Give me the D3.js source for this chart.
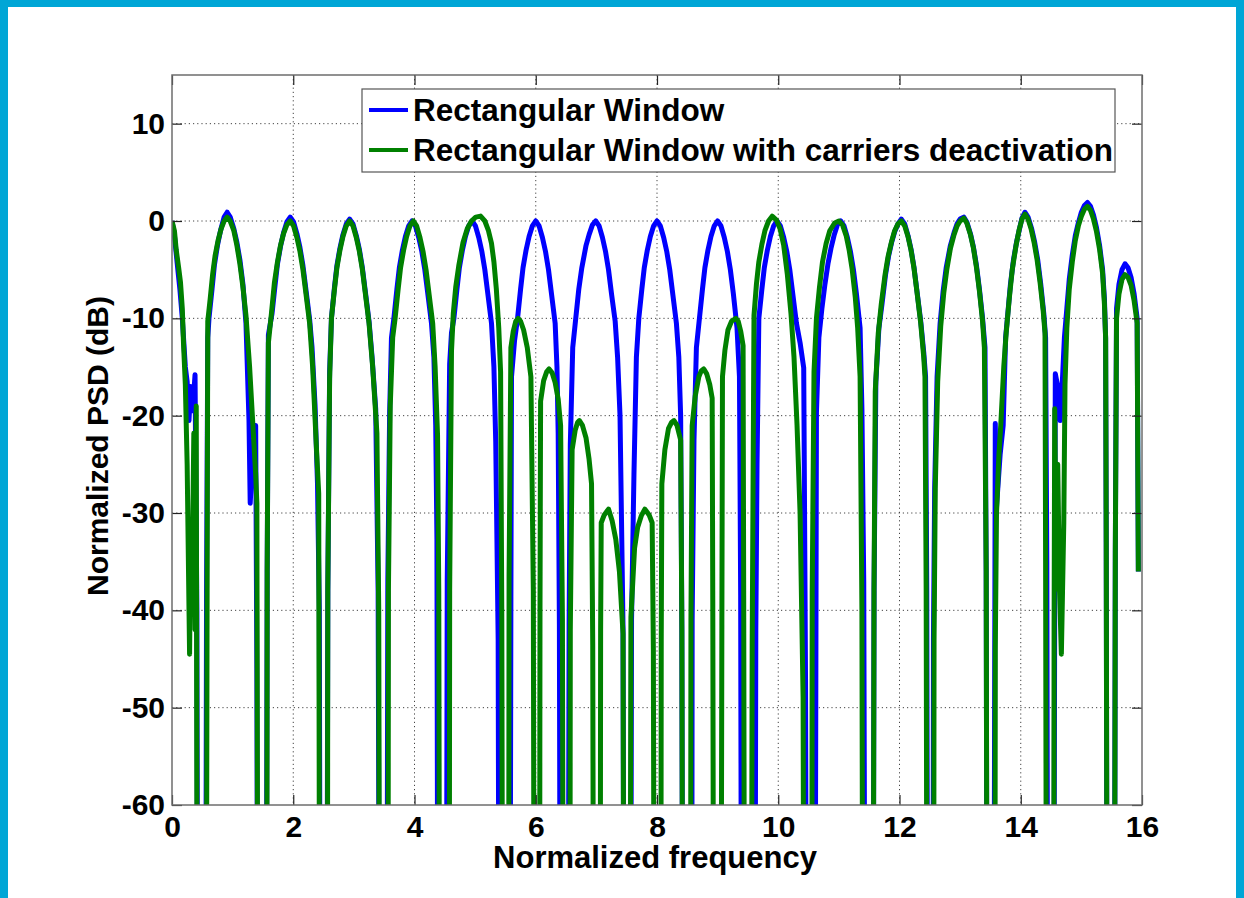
<!DOCTYPE html>
<html>
<head>
<meta charset="utf-8">
<script src="https://cdn.jsdelivr.net/npm/d3@7"></script>
<style>
  body { margin: 0; background: #fff; }
  svg { display: block; font-family: "Liberation Sans", Arial, sans-serif; font-weight: bold; }
</style>
</head>
<body>
<div id="chart"></div>
<script>
// tick values
var xTicks = [0, 2, 4, 6, 8, 10, 12, 14, 16];
var yTicks = [-60, -50, -40, -30, -20, -10, 0, 10];
var seriesNames = ["Rectangular Window", "Rectangular Window with carriers deactivation"];

// [normalized frequency, PSD dB]  (-100 = below the visible range)
var rectWindow = [
  [0,0],[0.04,-1.5],[0.08,-4],[0.13,-7],[0.17,-10],[0.22,-15],[0.25,-16.5],[0.28,-20.5],[0.31,-17],[0.34,-19.5],[0.38,-15.8],[0.41,-40],[0.43,-100],
  [0.55,-100],[0.57,-38],[0.59,-12],[0.61,-10],[0.66,-7],[0.70,-4.5],[0.75,-2.5],[0.80,-1],[0.86,0.4],[0.91,0.9],[0.96,0.4],[1.02,-0.8],[1.07,-2.2],[1.12,-4],[1.17,-6.5],[1.22,-10.5],[1.27,-20.5],[1.29,-29],[1.33,-24],[1.38,-21],[1.40,-46],[1.42,-100],
  [1.55,-100],[1.57,-36],[1.59,-11.7],[1.65,-9.5],[1.70,-6.6],[1.74,-4.4],[1.79,-2.6],[1.84,-1.2],[1.895,-0.1],[1.95,0.4],[2.005,-0.1],[2.06,-1.3],[2.11,-2.7],[2.16,-4.6],[2.21,-7.1],[2.27,-10.1],[2.31,-13],[2.36,-19],[2.40,-27],[2.43,-40],[2.45,-100],
  [2.55,-100],[2.57,-38],[2.60,-15.5],[2.63,-10],[2.68,-6.8],[2.72,-4.6],[2.77,-2.8],[2.82,-1.4],[2.875,-0.3],[2.93,0.2],[2.985,-0.3],[3.04,-1.5],[3.09,-2.9],[3.14,-4.8],[3.19,-7.3],[3.25,-10.3],[3.30,-14],[3.36,-19.3],[3.40,-38],[3.43,-100],
  [3.54,-100],[3.56,-37],[3.59,-19.7],[3.62,-12],[3.66,-10],[3.71,-7],[3.75,-4.8],[3.80,-3],[3.85,-1.6],[3.905,-0.5],[3.96,0],[4.015,-0.5],[4.07,-1.7],[4.12,-3.1],[4.17,-5],[4.22,-7.5],[4.28,-10.5],[4.32,-14],[4.35,-21],[4.37,-32.7],[4.39,-100],
  [4.52,-100],[4.54,-37],[4.58,-14.7],[4.61,-11.5],[4.65,-10],[4.70,-7],[4.74,-4.8],[4.79,-3],[4.84,-1.6],[4.895,-0.5],[4.95,0],[5.005,-0.5],[5.06,-1.7],[5.11,-3.1],[5.16,-5],[5.21,-7.5],[5.27,-10.5],[5.31,-15],[5.34,-22.7],[5.38,-43],[5.40,-100],
  [5.57,-100],[5.59,-38.6],[5.60,-16],[5.65,-12.3],[5.70,-10],[5.75,-7],[5.79,-4.8],[5.84,-3],[5.89,-1.6],[5.945,-0.5],[6.0,0],[6.055,-0.5],[6.11,-1.7],[6.16,-3.1],[6.21,-5],[6.26,-7.5],[6.32,-10.5],[6.35,-15],[6.37,-21.8],[6.39,-41.5],[6.41,-100],
  [6.53,-100],[6.55,-41.5],[6.57,-23],[6.61,-13],[6.66,-10],[6.71,-7],[6.76,-4.8],[6.83,-2.5],[6.88,-1.4],[6.935,-0.4],[6.99,0],[7.045,-0.5],[7.10,-1.7],[7.15,-3.1],[7.20,-5],[7.25,-7.5],[7.31,-10.3],[7.35,-14],[7.39,-20],[7.44,-42],[7.46,-100],
  [7.56,-100],[7.58,-41],[7.62,-26],[7.66,-14],[7.70,-10],[7.75,-7],[7.79,-4.8],[7.84,-3],[7.89,-1.6],[7.945,-0.5],[8.0,0],[8.055,-0.5],[8.11,-1.7],[8.16,-3.1],[8.21,-5],[8.26,-7.5],[8.32,-10.5],[8.36,-14],[8.39,-20],[8.41,-42],[8.43,-100],
  [8.57,-100],[8.58,-41],[8.61,-22.5],[8.65,-13],[8.70,-10],[8.75,-7],[8.79,-4.8],[8.84,-3],[8.89,-1.6],[8.945,-0.5],[9.0,0],[9.055,-0.5],[9.11,-1.7],[9.16,-3.1],[9.21,-5],[9.26,-7.5],[9.32,-11],[9.36,-16],[9.38,-38.5],[9.40,-100],
  [9.61,-100],[9.63,-42],[9.65,-25],[9.68,-10],[9.73,-7],[9.77,-4.8],[9.82,-3],[9.87,-1.6],[9.925,-0.5],[9.98,0],[10.035,-0.5],[10.09,-1.7],[10.14,-3.1],[10.19,-5],[10.24,-7.5],[10.30,-10.5],[10.36,-12.5],[10.42,-15.1],[10.45,-47],[10.47,-100],
  [10.60,-100],[10.62,-47],[10.63,-19.7],[10.67,-12],[10.72,-9],[10.77,-6.5],[10.82,-4.4],[10.87,-2.8],[10.92,-1.5],[10.975,-0.4],[11.03,0],[11.085,-0.5],[11.14,-1.7],[11.19,-3.1],[11.24,-5],[11.29,-7.5],[11.35,-11],[11.38,-19.3],[11.41,-37],[11.44,-100],
  [11.56,-100],[11.58,-38],[11.61,-16.5],[11.66,-11],[11.71,-8.6],[11.77,-5.5],[11.82,-3.6],[11.87,-2.2],[11.92,-1.1],[11.975,-0.3],[12.03,0.2],[12.085,-0.3],[12.14,-1.5],[12.19,-2.9],[12.24,-4.8],[12.29,-7.3],[12.35,-10.3],[12.40,-13.5],[12.43,-16],[12.45,-38],[12.47,-100],
  [12.55,-100],[12.56,-43],[12.58,-27.5],[12.62,-16],[12.67,-10.5],[12.72,-7.2],[12.77,-4.8],[12.84,-2.5],[12.90,-1.2],[12.95,-0.3],[13.0,0.2],[13.06,0.4],[13.11,-0.1],[13.17,-1.3],[13.22,-2.7],[13.27,-4.6],[13.32,-7.1],[13.37,-10],[13.41,-13],[13.43,-36],[13.45,-100],
  [13.55,-100],[13.58,-20.8],[13.60,-29.4],[13.66,-24],[13.71,-21],[13.75,-12],[13.78,-10],[13.83,-6.5],[13.88,-4],[13.93,-2.2],[13.98,-0.8],[14.02,0.3],[14.07,0.9],[14.12,0.4],[14.18,-0.8],[14.23,-2.2],[14.28,-4],[14.33,-6.5],[14.38,-9.5],[14.41,-12],[14.43,-35],[14.45,-100],
  [14.54,-100],[14.56,-39],[14.57,-15.7],[14.61,-17],[14.65,-20.5],[14.69,-16],[14.72,-12],[14.76,-9],[14.80,-6],[14.85,-3.5],[14.90,-1.5],[14.95,-0.2],[15.0,0.9],[15.05,1.6],[15.1,1.9],[15.15,1.5],[15.2,0.6],[15.25,-0.7],[15.30,-2.5],[15.35,-5],[15.38,-8],[15.40,-12],[15.41,-33],[15.43,-100],
  [15.54,-100],[15.56,-34],[15.58,-9],[15.62,-6.5],[15.67,-5],[15.72,-4.4],[15.77,-4.8],[15.82,-5.8],[15.87,-7.5],[15.92,-10],[15.94,-36]
];

var rectWindowDeact = [
  [0,0],[0.04,-1],[0.07,-3],[0.11,-4.8],[0.14,-6.3],[0.17,-9],[0.19,-12.6],[0.22,-16.8],[0.25,-25],[0.29,-44.5],[0.31,-31.5],[0.33,-37.8],[0.36,-21.8],[0.38,-42],[0.40,-19],[0.42,-100],
  [0.56,-100],[0.58,-35],[0.59,-10.3],[0.63,-8],[0.67,-5.5],[0.71,-3.6],[0.76,-2],[0.81,-0.8],[0.86,0],[0.91,0.4],[0.96,0],[1.02,-1],[1.07,-2.5],[1.12,-4.4],[1.17,-6.8],[1.22,-9.7],[1.28,-15],[1.33,-20.5],[1.38,-26],[1.40,-29],[1.42,-100],
  [1.56,-100],[1.57,-36],[1.59,-12.5],[1.64,-9.5],[1.69,-6.3],[1.74,-4.2],[1.79,-2.5],[1.84,-1.3],[1.895,-0.4],[1.95,0],[2.005,-0.5],[2.06,-1.7],[2.11,-3.1],[2.16,-5],[2.21,-7.5],[2.27,-10.5],[2.32,-15],[2.38,-23],[2.42,-28],[2.44,-100],
  [2.56,-100],[2.57,-38],[2.60,-16.2],[2.63,-10],[2.68,-7],[2.72,-4.8],[2.77,-3],[2.82,-1.6],[2.875,-0.5],[2.93,0],[2.985,-0.5],[3.04,-1.7],[3.09,-3.1],[3.14,-5],[3.19,-7.5],[3.25,-10.5],[3.31,-15],[3.38,-21.8],[3.41,-40],[3.43,-100],
  [3.56,-100],[3.57,-38],[3.60,-19],[3.64,-12],[3.68,-10],[3.73,-7],[3.77,-4.8],[3.82,-3],[3.87,-1.6],[3.925,-0.5],[3.98,0],[4.035,-0.5],[4.09,-1.7],[4.14,-3.1],[4.19,-5],[4.24,-7.5],[4.30,-10.5],[4.34,-15],[4.38,-22],[4.40,-37.8],[4.42,-100],
  [4.57,-100],[4.58,-38],[4.61,-13.4],[4.64,-9.5],[4.68,-6.8],[4.73,-4.6],[4.80,-2.2],[4.87,-0.8],[4.94,0],[5.01,0.4],[5.09,0.5],[5.16,0],[5.22,-1],[5.27,-2.3],[5.31,-4.2],[5.35,-7],[5.39,-11],[5.42,-15.5],[5.44,-41],[5.46,-100],
  [5.55,-100],[5.56,-36.5],[5.59,-13],[5.63,-11.3],[5.67,-10.3],[5.71,-10],[5.75,-10.3],[5.80,-11.2],[5.86,-13],[5.92,-16],[5.96,-38],[5.98,-100],
  [6.06,-100],[6.07,-40],[6.08,-18.5],[6.13,-16.4],[6.18,-15.5],[6.22,-15.2],[6.27,-15.6],[6.32,-16.6],[6.37,-18.3],[6.41,-21],[6.44,-41],[6.46,-100],
  [6.56,-100],[6.57,-42],[6.60,-23.5],[6.65,-21.5],[6.69,-20.7],[6.72,-20.5],[6.77,-21],[6.83,-22.3],[6.88,-24.5],[6.92,-27],[6.94,-43.6],[6.96,-100],
  [7.06,-100],[7.07,-42],[7.08,-31],[7.13,-30.2],[7.2,-29.6],[7.26,-30.8],[7.32,-32.7],[7.38,-36],[7.44,-42.4],[7.46,-100],
  [7.55,-100],[7.57,-40.7],[7.63,-33.6],[7.68,-31.5],[7.74,-30.3],[7.8,-29.6],[7.87,-30.2],[7.92,-31],[7.94,-44],[7.96,-100],
  [8.06,-100],[8.07,-43],[8.08,-27],[8.13,-23.5],[8.19,-21.3],[8.24,-20.7],[8.28,-20.5],[8.33,-21],[8.39,-22.5],[8.41,-42],[8.43,-100],
  [8.55,-100],[8.56,-41],[8.58,-21],[8.63,-18],[8.69,-16],[8.73,-15.4],[8.77,-15.2],[8.82,-15.7],[8.87,-16.8],[8.91,-18.2],[8.92,-39],[8.94,-100],
  [9.05,-100],[9.07,-41.5],[9.08,-16],[9.12,-13.3],[9.17,-11.2],[9.23,-10.3],[9.3,-10],[9.34,-10.3],[9.38,-11.3],[9.42,-12.8],[9.43,-38.5],[9.45,-100],
  [9.55,-100],[9.57,-43.6],[9.60,-9.7],[9.64,-6.5],[9.68,-4.2],[9.73,-2.4],[9.78,-1],[9.84,0],[9.9,0.5],[9.97,0.1],[10.03,-0.8],[10.09,-2.5],[10.15,-5.5],[10.21,-9.5],[10.26,-14],[10.31,-21],[10.36,-30],[10.41,-49],[10.43,-100],
  [10.55,-100],[10.56,-38],[10.59,-15.5],[10.63,-10],[10.68,-6.8],[10.73,-4.2],[10.79,-2.3],[10.85,-1],[10.93,-0.2],[11.0,0],[11.06,-0.4],[11.12,-1.5],[11.17,-3],[11.22,-5],[11.27,-7.8],[11.31,-11],[11.35,-16],[11.38,-40],[11.40,-100],
  [11.56,-100],[11.58,-38],[11.60,-17.5],[11.65,-11.5],[11.70,-8.5],[11.76,-5.6],[11.81,-3.7],[11.87,-2.1],[11.92,-1],[11.975,-0.3],[12.03,0],[12.085,-0.5],[12.14,-1.6],[12.19,-3],[12.24,-4.9],[12.29,-7.4],[12.35,-10.5],[12.40,-14],[12.42,-16],[12.44,-38],[12.46,-100],
  [12.56,-100],[12.57,-43],[12.59,-27.5],[12.63,-16.5],[12.68,-10.8],[12.73,-7.4],[12.78,-5],[12.84,-2.8],[12.90,-1.4],[12.95,-0.5],[13.0,0],[13.06,0.3],[13.11,-0.2],[13.17,-1.4],[13.22,-2.8],[13.27,-4.8],[13.32,-7.3],[13.37,-10.3],[13.40,-13],[13.43,-36],[13.45,-100],
  [13.57,-100],[13.58,-44],[13.60,-30],[13.64,-24],[13.67,-21],[13.72,-15],[13.76,-11.5],[13.81,-8],[13.86,-5],[13.92,-2.6],[13.97,-1],[14.02,0.2],[14.07,0.7],[14.12,0.2],[14.17,-0.8],[14.22,-2.2],[14.27,-4],[14.32,-6.4],[14.37,-9.2],[14.40,-11.5],[14.41,-35],[14.43,-100],
  [14.54,-100],[14.55,-42],[14.56,-19.3],[14.59,-37.8],[14.61,-25],[14.64,-38],[14.67,-44.5],[14.71,-31],[14.73,-16.8],[14.76,-11],[14.80,-7],[14.85,-4.2],[14.90,-2],[14.95,-0.5],[15.0,0.5],[15.05,1.2],[15.1,1.5],[15.15,1.1],[15.2,0.2],[15.25,-1.1],[15.30,-2.9],[15.35,-5.4],[15.38,-8.5],[15.40,-12],[15.41,-33],[15.43,-100],
  [15.54,-100],[15.56,-34],[15.58,-10],[15.62,-7.5],[15.67,-6],[15.72,-5.5],[15.77,-5.8],[15.82,-6.6],[15.87,-8.2],[15.92,-10.5],[15.94,-36]
];

var seriesColors = ["#0000ff", "#008000"];

var W = 1244, H = 898;
var plotL = 172, plotR = 1142, plotT = 75, plotB = 805;

var svg = d3.select("#chart").append("svg")
  .attr("width", W).attr("height", H);

// cyan frame around the figure
svg.append("rect").attr("x", 0).attr("y", 0).attr("width", W).attr("height", H).attr("fill", "#00a6d6");
svg.append("rect").attr("x", 8).attr("y", 7).attr("width", W - 16).attr("height", H - 7).attr("fill", "#fff");

var x = d3.scaleLinear().domain([0, 16]).range([plotL, plotR]);
var y = d3.scaleLinear().domain([-60, 15]).range([plotB, plotT]);

// dotted grid
var grid = svg.append("g");
grid.selectAll(".gx").data(xTicks.slice(1, -1)).enter().append("line")
  .attr("x1", function(d){ return x(d); }).attr("x2", function(d){ return x(d); })
  .attr("y1", plotT).attr("y2", plotB)
  .attr("stroke", "#444").attr("stroke-width", 1).attr("stroke-dasharray", "1.2,3");
grid.selectAll(".gy").data(yTicks.slice(1)).enter().append("line")
  .attr("x1", plotL).attr("x2", plotR)
  .attr("y1", function(d){ return y(d); }).attr("y2", function(d){ return y(d); })
  .attr("stroke", "#444").attr("stroke-width", 1).attr("stroke-dasharray", "1.2,3");

// lines
svg.append("clipPath").attr("id", "plotclip").append("rect")
  .attr("x", plotL).attr("y", plotT).attr("width", plotR - plotL).attr("height", plotB - plotT);

var line = d3.line()
  .x(function(d){ return x(d[0]); })
  .y(function(d){ return y(d[1]); });

var lines = svg.append("g").attr("clip-path", "url(#plotclip)");
[rectWindow, rectWindowDeact].forEach(function(s, i) {
  lines.append("path").datum(s)
    .attr("d", line)
    .attr("fill", "none")
    .attr("stroke", seriesColors[i])
    .attr("stroke-width", 5)
    .attr("stroke-linejoin", "round");
});

// axes (ticks inside, MATLAB style)
var fmt = function(d){ return String(d); };   // plain hyphen minus like MATLAB
var xAxis = svg.append("g").attr("transform", "translate(0," + plotB + ")")
  .call(d3.axisBottom(x).tickValues(xTicks).tickSize(-10).tickPadding(11).tickFormat(fmt));
var xAxisTop = svg.append("g").attr("transform", "translate(0," + plotT + ")")
  .call(d3.axisTop(x).tickValues(xTicks).tickSize(-10).tickFormat(""));
var yAxis = svg.append("g").attr("transform", "translate(" + plotL + ",0)")
  .call(d3.axisLeft(y).tickValues(yTicks).tickSize(-10).tickPadding(7).tickFormat(fmt));
var yAxisRight = svg.append("g").attr("transform", "translate(" + plotR + ",0)")
  .call(d3.axisRight(y).tickValues(yTicks).tickSize(-10).tickFormat(""));

[xAxis, xAxisTop, yAxis, yAxisRight].forEach(function(a) {
  a.select(".domain").remove();
  a.selectAll("line").attr("stroke", "#222").attr("stroke-width", 1.2);
  a.selectAll("text").attr("fill", "#000").style("font-size", "30px")
    .style("font-family", "'Liberation Sans', Arial, sans-serif").style("font-weight", "bold");
});

svg.append("rect").attr("x", plotL).attr("y", plotT)
  .attr("width", plotR - plotL).attr("height", plotB - plotT)
  .attr("fill", "none").attr("stroke", "#6e6e6e").attr("stroke-width", 1.5);

// axis labels
svg.append("text").attr("x", 655).attr("y", 868)
  .attr("text-anchor", "middle").style("font-size", "31px").text("Normalized frequency");
svg.append("text").attr("transform", "translate(108,446) rotate(-90)")
  .attr("text-anchor", "middle").style("font-size", "30px").text("Normalized PSD (dB)");

// legend
var legend = svg.append("g");
legend.append("rect").attr("x", 362).attr("y", 89).attr("width", 753).attr("height", 83)
  .attr("fill", "#fff").attr("stroke", "#555").attr("stroke-width", 1.2);
var leg = legend.selectAll(".item").data(seriesNames).enter().append("g")
  .attr("transform", function(d, i){ return "translate(0," + (110 + i * 40) + ")"; });
leg.append("line").attr("x1", 369).attr("x2", 408).attr("y1", 0).attr("y2", 0)
  .attr("stroke", function(d, i){ return seriesColors[i]; }).attr("stroke-width", 4);
leg.append("text").attr("x", 413).attr("y", 11).style("font-size", "31.5px").text(function(d){ return d; });
</script>
</body>
</html>
